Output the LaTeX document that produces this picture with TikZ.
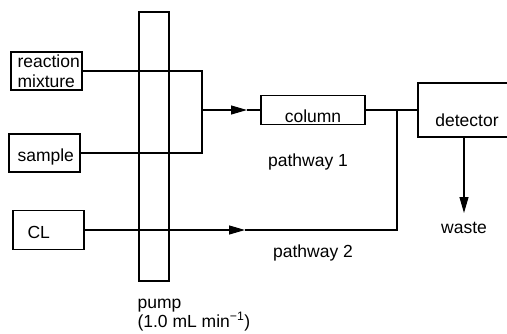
\documentclass[tikz,border=0pt]{standalone}
\usepackage{fontspec}
\setmainfont{Liberation Sans}
\usetikzlibrary{arrows.meta}
\begin{document}
\begin{tikzpicture}[x=1pt,y=-1pt, line width=1.1pt,
 box/.style={draw, rectangle, inner sep=0pt, outer sep=0pt},
 lbl/.style={font=\fontsize{17.5}{20}\selectfont, inner sep=0pt},
 tip/.style={-{Triangle[length=16pt,width=9pt]}}]
\useasboundingbox (0,0) rectangle (507,333);
% boxes
\node[box, minimum width=71pt, minimum height=38pt] (rm) at (46.5,71) {};
\node[box, minimum width=71pt, minimum height=38pt] (sample) at (44.5,153) {};
\node[box, minimum width=71pt, minimum height=39pt] (cl) at (48.5,230) {};
\node[box, minimum width=30pt, minimum height=269pt] (pump) at (154,146.5) {};
\node[box, minimum width=104pt, minimum height=29pt] (column) at (313,110) {};
\node[box, minimum width=100pt, minimum height=54pt] (detector) at (468,110) {};
% texts
\node[lbl, align=left, anchor=base west] (trm) at (17,87) {reaction\\mixture};
\node[lbl, anchor=base west] (tsample) at (17,161) {sample};
\node[lbl, anchor=base west] (tcl) at (27,238) {CL};
\node[lbl, anchor=base] (tcolumn) at (313,122) {column};
\node[lbl, anchor=base] (tdetector) at (467,126) {detector};
\node[lbl, anchor=base] (twaste) at (464,233) {waste};
\node[lbl, anchor=base] (tp1) at (308,166) {pathway 1};
\node[lbl, anchor=base] (tp2) at (313,257) {pathway 2};
\node[lbl, anchor=base west] (tpump) at (137,308) {pump};
\node[lbl, anchor=base west] (trate) at (137,327) {(1.0 mL min\textsuperscript{−1})};
% coordinates
\coordinate (jb) at (202,153);
\coordinate (jm) at (202,110);
\coordinate (a1) at (247,110);
\coordinate (jr) at (397,110);
\coordinate (jc) at (397,230);
\coordinate (a2) at (245,230);
\coordinate (d1) at (464,137);
\coordinate (w1) at (464,213);
% connectors
\draw (rm.east) -| (jb) -- (sample.east);
\draw[tip] (jm) -- (a1);
\draw (a1) -- (column.west);
\draw (column.east) -- (detector.west);
\draw[tip] (cl.east) -- (a2);
\draw (a2) -- (jc) -- (jr);
\draw[tip] (d1) -- (w1);
\end{tikzpicture}
\end{document}
